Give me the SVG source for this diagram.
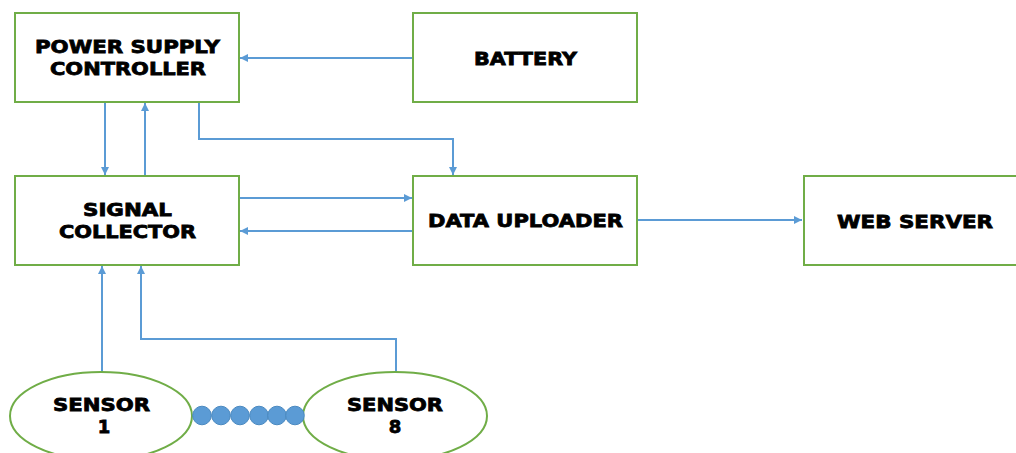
<svg xmlns="http://www.w3.org/2000/svg" width="1016" height="453" viewBox="0 0 1016 453">
  <style>
    .box { fill: #ffffff; stroke: #70AD47; stroke-width: 2; }
    .lbl { font-family: "DejaVu Sans", "Liberation Sans", sans-serif; font-weight: bold; font-size: 18px; fill: #000000; text-anchor: middle; stroke: #000; stroke-width: 0.8; }
    .wire { fill: none; stroke: #5B9BD5; stroke-width: 2; marker-end: url(#arrow); }
    .dot { fill: #5B9BD5; stroke: #4A89C0; stroke-width: 1; }
  </style>
  <defs>
    <marker id="arrow" viewBox="0 0 10 10" refX="10" refY="5" markerWidth="4" markerHeight="4" orient="auto" markerUnits="strokeWidth">
      <path d="M0,0 L10,5 L0,10 Z" fill="#5B9BD5"/>
    </marker>
  </defs>
  <rect width="1016" height="453" fill="#ffffff"/>

  <g id="connectors">
    <path class="wire" d="M413,58 H240"/>
    <path class="wire" d="M105,102 V175"/>
    <path class="wire" d="M145,176 V103"/>
    <path class="wire" d="M199,102 V139 H453 V175"/>
    <path class="wire" d="M240,198 H412"/>
    <path class="wire" d="M413,231 H240"/>
    <path class="wire" d="M637,220 H802"/>
    <path class="wire" d="M102,372 V266"/>
    <path class="wire" d="M396,372 V339 H141 V266"/>
  </g>

  <g id="power-supply-controller">
    <rect class="box" x="15" y="13" width="224" height="89"/>
    <text class="lbl" x="127.5" y="53" textLength="185" lengthAdjust="spacingAndGlyphs">POWER SUPPLY</text>
    <text class="lbl" x="128" y="75" textLength="156" lengthAdjust="spacingAndGlyphs">CONTROLLER</text>
  </g>

  <g id="battery">
    <rect class="box" x="413" y="13" width="224" height="89"/>
    <text class="lbl" x="525.5" y="65" textLength="103" lengthAdjust="spacingAndGlyphs">BATTERY</text>
  </g>

  <g id="signal-collector">
    <rect class="box" x="15" y="176" width="224" height="89"/>
    <text class="lbl" x="127.5" y="216" textLength="89" lengthAdjust="spacingAndGlyphs">SIGNAL</text>
    <text class="lbl" x="127.5" y="238" textLength="137" lengthAdjust="spacingAndGlyphs">COLLECTOR</text>
  </g>

  <g id="data-uploader">
    <rect class="box" x="413" y="176" width="224" height="89"/>
    <text class="lbl" x="525.5" y="227" textLength="195" lengthAdjust="spacingAndGlyphs">DATA UPLOADER</text>
  </g>

  <g id="web-server">
    <rect class="box" x="804" y="176" width="224" height="89"/>
    <text class="lbl" x="915" y="228" textLength="156" lengthAdjust="spacingAndGlyphs">WEB SERVER</text>
  </g>

  <g id="sensor-1">
    <ellipse class="box" cx="101" cy="416" rx="91" ry="44"/>
    <text class="lbl" x="101.5" y="411" textLength="97" lengthAdjust="spacingAndGlyphs">SENSOR</text>
    <text class="lbl" x="104" y="433">1</text>
  </g>

  <g id="sensor-8">
    <ellipse class="box" cx="395" cy="416" rx="92" ry="44"/>
    <text class="lbl" x="395" y="411" textLength="96" lengthAdjust="spacingAndGlyphs">SENSOR</text>
    <text class="lbl" x="395" y="433">8</text>
  </g>

  <g id="sensor-chain">
    <circle class="dot" cx="202" cy="415.5" r="9.3"/>
    <circle class="dot" cx="221" cy="415.5" r="9.3"/>
    <circle class="dot" cx="240" cy="415.5" r="9.3"/>
    <circle class="dot" cx="259" cy="415.5" r="9.3"/>
    <circle class="dot" cx="277" cy="415.5" r="9.3"/>
    <circle class="dot" cx="295" cy="415.5" r="9.3"/>
  </g>
</svg>
